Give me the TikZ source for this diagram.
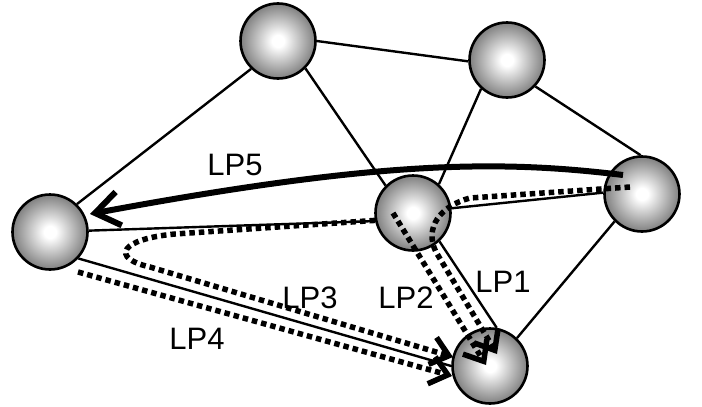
\documentclass[tikz,border=0pt]{standalone}
\usepackage{fontspec}
\setmainfont{Liberation Sans}
\usetikzlibrary{arrows.meta,calc}
% sphere look: white highlight fading to a mid grey rim
\pgfdeclareradialshading{routerball}{\pgfpoint{0bp}{0bp}}{%
  color(0bp)=(white); color(4bp)=(white); color(25bp)=(black!50); color(50bp)=(black!50)}
\begin{document}
\begin{tikzpicture}[x=1pt,y=-1pt,
  ball/.style={circle, draw=black, line width=2.6pt, minimum size=75pt, inner sep=0pt,
    shading=routerball},
  link/.style={line width=2.4pt},
  lsp/.style={line width=5.5pt, dash pattern=on 5.5pt off 4pt,
    -{Straight Barb[length=17pt,width=28pt]}},
  backup/.style={line width=6pt, -{Straight Barb[length=24pt,width=34pt]}},
  lplabel/.style={font=\fontsize{31}{34}\selectfont, inner sep=0pt}]
\useasboundingbox (0,0) rectangle (702,407);

% routers
\node[ball] (A) at (50,232) {};
\node[ball] (B) at (278,41) {};
\node[ball] (C) at (507,60) {};
\node[ball] (D) at (413,213) {};
\node[ball] (E) at (642,194) {};
\node[ball] (F) at (490,366) {};

% physical links
\draw[link] (A.46) -- (B.226);
\draw[link] (B.0) -- (C.182);
\draw[link] (B.-45) -- (D.135);
\draw[link] (C.228) -- (D.48);
\draw[link] (C.-43) -- (E.92);
\draw[link] (D.7) -- (E.178);
\draw[link] (A.2) -- (D.192);
\draw[link] (D.-47) -- (F.80);
\draw[link] (E.225) -- (F.46);
\draw[link] (A.-43) -- (F.180);

% label switched paths
\draw[backup] ($(E)+(-19,-19)$) .. controls (500,160) and (380,160) .. ($(A)+(40,-18)$);
\draw[lsp] ($(D)+(-20,0)$) -- ($(F)+(-4,-1)$);
\draw[lsp] ($(E)+(-12,-7)$) -- (470,198) .. controls (440,206) and (424,228) .. (436,252) -- ($(F)+(7,-12)$);
\draw[lsp] (D.191) -- (175,234) .. controls (120,239) and (110,258) .. (150,267) -- ($(F)+(-37,-9)$);
\draw[lsp] ($(A)+(28,40)$) -- ($(F)+(-38,10)$);

% path labels
\node[lplabel] (l5) at (235,165) {LP5};
\node[lplabel] (l3) at (310,298) {LP3};
\node[lplabel] (l4) at (197,339) {LP4};
\node[lplabel] (l2) at (406,298) {LP2};
\node[lplabel] (l1) at (503,282) {LP1};
\end{tikzpicture}
\end{document}
